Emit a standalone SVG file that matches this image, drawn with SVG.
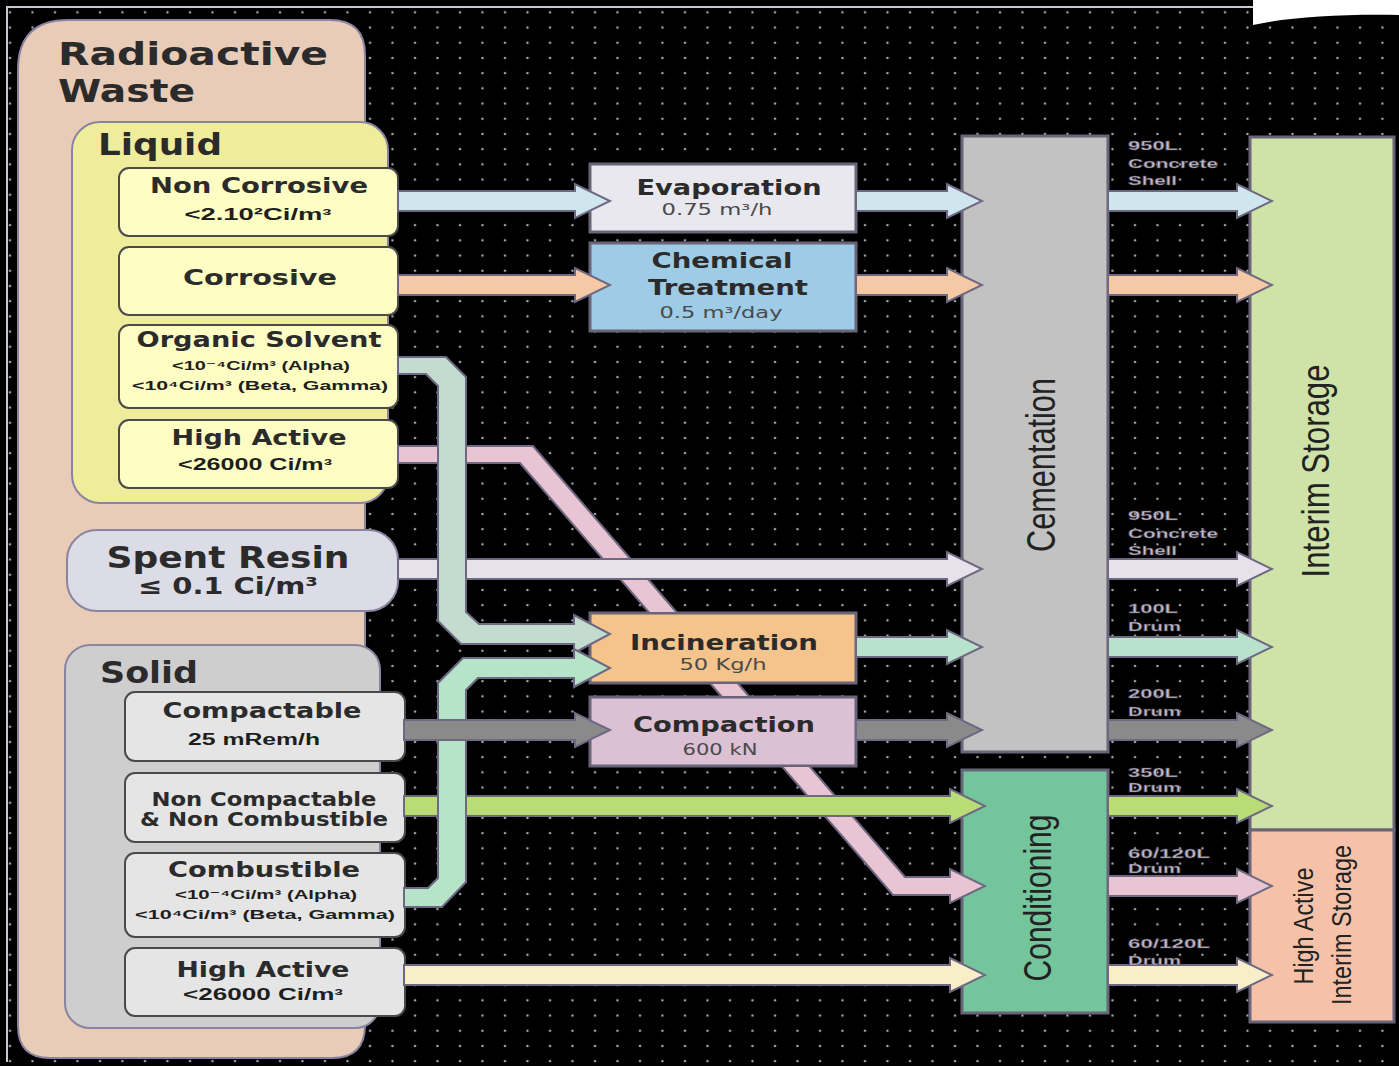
<svg xmlns="http://www.w3.org/2000/svg" width="1399" height="1066" viewBox="0 0 1399 1066">
<defs>
<pattern id="dots" patternUnits="userSpaceOnUse" width="22.5" height="15.2"><circle cx="10" cy="12.3" r="1.2" fill="#b4b4c6"/></pattern>
<clipPath id="pinkClip"><path clip-rule="evenodd" d="M0,0H1399V1066H0Z M589,612H857V684H589Z M589,696H857V767H589Z"/></clipPath>
<style>
.arrow{stroke:#6e6882;stroke-width:2;stroke-linejoin:miter}
.src{stroke:#4a4a4a;stroke-width:2}
.panel{stroke:#8a84a0;stroke-width:2}
.proc{stroke:#6a6478;stroke-width:3}
.t{font-family:"DejaVu Sans","Liberation Sans",sans-serif;font-weight:bold;fill:#2b2b2b}
.s{font-family:"Liberation Sans","DejaVu Sans",sans-serif;font-weight:bold;fill:#1e1e1e}
.p{font-family:"DejaVu Sans","Liberation Sans",sans-serif;fill:#4a4a4a;font-size:15px}
.v{font-family:"Liberation Sans","DejaVu Sans",sans-serif;fill:#222}
.lbl{font-family:"Liberation Sans","DejaVu Sans",sans-serif;font-weight:bold;font-size:13px;fill:#c4bccb;stroke:#4a4452;stroke-width:0.5}
</style>
</defs>
<g id="background">
<rect width="1399" height="1066" fill="#000"/>
<rect width="1399" height="1066" fill="url(#dots)"/>
<path d="M1253,0 L1253,25 C1290,17 1340,14 1399,15 L1399,0 Z" fill="#fff"/>
<path d="M7,1062 L7,7 L1253,7" fill="none" stroke="#c8c8d2" stroke-width="2"/>
</g>
<g id="radioactive-waste">
<path class="panel" d="M18,70 Q18,20 68,20 L330,20 Q365,20 365,55 L365,1025 Q365,1058 332,1058 L50,1058 Q18,1058 18,1026 Z" fill="#e8ccb8"/>
<text class="t" x="58" y="65" font-size="32" textLength="270" lengthAdjust="spacingAndGlyphs">Radioactive</text>
<text class="t" x="58" y="102" font-size="32" textLength="137" lengthAdjust="spacingAndGlyphs">Waste</text>
</g>
<g id="liquid">
<rect class="panel" x="72" y="122" width="316" height="381" rx="28" fill="#efed9b"/>
<text class="t" x="98" y="155" font-size="30" textLength="124" lengthAdjust="spacingAndGlyphs">Liquid</text>
</g>
<g id="non-corrosive">
<rect class="src" x="119" y="168" width="279" height="68" rx="10" fill="#fefec4"/>
<text class="t" x="259" y="193" font-size="21" text-anchor="middle" textLength="218" lengthAdjust="spacingAndGlyphs">Non Corrosive</text>
<text class="s" x="258" y="220" font-size="16" text-anchor="middle" textLength="147" lengthAdjust="spacingAndGlyphs">&lt;2.10²Ci/m³</text>
</g>
<g id="corrosive">
<rect class="src" x="119" y="247" width="279" height="68" rx="10" fill="#fefec4"/>
<text class="t" x="260" y="285" font-size="21" text-anchor="middle" textLength="154" lengthAdjust="spacingAndGlyphs">Corrosive</text>
</g>
<g id="organic-solvent">
<rect class="src" x="119" y="325" width="279" height="83" rx="10" fill="#fefec4"/>
<text class="t" x="259" y="347" font-size="21" text-anchor="middle" textLength="245" lengthAdjust="spacingAndGlyphs">Organic Solvent</text>
<text class="s" x="261" y="370" font-size="13" text-anchor="middle" textLength="178" lengthAdjust="spacingAndGlyphs">&lt;10⁻⁴Ci/m³ (Alpha)</text>
<text class="s" x="260" y="390" font-size="13" text-anchor="middle" textLength="256" lengthAdjust="spacingAndGlyphs">&lt;10⁴Ci/m³ (Beta, Gamma)</text>
</g>
<g id="liquid-high-active">
<rect class="src" x="119" y="420" width="279" height="68" rx="10" fill="#fefec4"/>
<text class="t" x="259" y="445" font-size="21" text-anchor="middle" textLength="175" lengthAdjust="spacingAndGlyphs">High Active</text>
<text class="s" x="255" y="470" font-size="16" text-anchor="middle" textLength="154" lengthAdjust="spacingAndGlyphs">&lt;26000 Ci/m³</text>
</g>
<g id="spent-resin">
<rect class="panel" x="67" y="530" width="331" height="81" rx="30" fill="#dcdce6"/>
<text class="t" x="228" y="568" font-size="30" text-anchor="middle" textLength="243" lengthAdjust="spacingAndGlyphs">Spent Resin</text>
<text class="t" x="228" y="594" font-size="23" text-anchor="middle" textLength="180" lengthAdjust="spacingAndGlyphs">≤ 0.1 Ci/m³</text>
</g>
<g id="solid">
<rect class="panel" x="65" y="645" width="315" height="383" rx="25" fill="#cecece"/>
<text class="t" x="100" y="683" font-size="30" textLength="98" lengthAdjust="spacingAndGlyphs">Solid</text>
</g>
<g id="compactable">
<rect class="src" x="125" y="692" width="280" height="69" rx="10" fill="#e5e5e5"/>
<text class="t" x="262" y="718" font-size="21" text-anchor="middle" textLength="199" lengthAdjust="spacingAndGlyphs">Compactable</text>
<text class="s" x="254" y="745" font-size="16" text-anchor="middle" textLength="132" lengthAdjust="spacingAndGlyphs">25 mRem/h</text>
</g>
<g id="non-compactable">
<rect class="src" x="125" y="773" width="280" height="69" rx="10" fill="#e5e5e5"/>
<text class="t" x="264" y="806" font-size="19" text-anchor="middle" textLength="225" lengthAdjust="spacingAndGlyphs">Non Compactable</text>
<text class="t" x="264" y="826" font-size="19" text-anchor="middle" textLength="248" lengthAdjust="spacingAndGlyphs">&amp; Non Combustible</text>
</g>
<g id="combustible">
<rect class="src" x="125" y="853" width="280" height="84" rx="10" fill="#e5e5e5"/>
<text class="t" x="264" y="877" font-size="21" text-anchor="middle" textLength="192" lengthAdjust="spacingAndGlyphs">Combustible</text>
<text class="s" x="266" y="899" font-size="13" text-anchor="middle" textLength="182" lengthAdjust="spacingAndGlyphs">&lt;10⁻⁴Ci/m³ (Alpha)</text>
<text class="s" x="265" y="919" font-size="13" text-anchor="middle" textLength="260" lengthAdjust="spacingAndGlyphs">&lt;10⁴Ci/m³ (Beta, Gamma)</text>
</g>
<g id="solid-high-active">
<rect class="src" x="125" y="948" width="280" height="68" rx="10" fill="#e5e5e5"/>
<text class="t" x="263" y="977" font-size="21" text-anchor="middle" textLength="173" lengthAdjust="spacingAndGlyphs">High Active</text>
<text class="s" x="263" y="1000" font-size="16" text-anchor="middle" textLength="160" lengthAdjust="spacingAndGlyphs">&lt;26000 Ci/m³</text>
</g>
<g id="evaporation">
<rect class="proc" x="590" y="164" width="266" height="68" fill="#e8e8ee"/>
<text class="t" x="729" y="195" font-size="22" text-anchor="middle" textLength="185" lengthAdjust="spacingAndGlyphs">Evaporation</text>
<text class="p" x="717" y="215" text-anchor="middle" textLength="111" lengthAdjust="spacingAndGlyphs">0.75 m³/h</text>
</g>
<g id="chemical-treatment">
<rect class="proc" x="590" y="243" width="266" height="88" fill="#9ecbe6"/>
<text class="t" x="722" y="268" font-size="22" text-anchor="middle" textLength="141" lengthAdjust="spacingAndGlyphs">Chemical</text>
<text class="t" x="728" y="295" font-size="22" text-anchor="middle" textLength="160" lengthAdjust="spacingAndGlyphs">Treatment</text>
<text class="p" x="721" y="318" text-anchor="middle" textLength="123" lengthAdjust="spacingAndGlyphs">0.5 m³/day</text>
</g>
<g id="incineration">
<rect class="proc" x="590" y="613" width="266" height="70" fill="#f5c48c"/>
<text class="t" x="724" y="650" font-size="22" text-anchor="middle" textLength="188" lengthAdjust="spacingAndGlyphs">Incineration</text>
<text class="p" x="723" y="670" text-anchor="middle" textLength="87" lengthAdjust="spacingAndGlyphs">50 Kg/h</text>
</g>
<g id="compaction">
<rect class="proc" x="590" y="697" width="266" height="69" fill="#dcc0d3"/>
<text class="t" x="724" y="732" font-size="22" text-anchor="middle" textLength="182" lengthAdjust="spacingAndGlyphs">Compaction</text>
<text class="p" x="720" y="755" text-anchor="middle" textLength="75" lengthAdjust="spacingAndGlyphs">600 kN</text>
</g>
<g id="cementation">
<rect class="proc" x="962" y="136" width="146" height="616" fill="#c2c2c2"/>
<text class="v" transform="translate(1055,465) rotate(-90)" font-size="40" text-anchor="middle" textLength="174" lengthAdjust="spacingAndGlyphs">Cementation</text>
</g>
<g id="conditioning">
<rect class="proc" x="962" y="770" width="146" height="243" fill="#74c59c"/>
<text class="v" transform="translate(1051,898) rotate(-90)" font-size="38" text-anchor="middle" textLength="167" lengthAdjust="spacingAndGlyphs">Conditioning</text>
</g>
<g id="interim-storage">
<rect class="proc" x="1250" y="137" width="144" height="693" fill="#cfe3a8"/>
<text class="v" transform="translate(1329,471) rotate(-90)" font-size="38" text-anchor="middle" textLength="213" lengthAdjust="spacingAndGlyphs">Interim Storage</text>
</g>
<g id="ha-interim-storage">
<rect class="proc" x="1250" y="830" width="144" height="192" fill="#f5c2a9"/>
<text class="v" transform="translate(1313,926) rotate(-90)" font-size="27" text-anchor="middle" textLength="117" lengthAdjust="spacingAndGlyphs">High Active</text>
<text class="v" transform="translate(1351,925) rotate(-90)" font-size="27" text-anchor="middle" textLength="160" lengthAdjust="spacingAndGlyphs">Interim Storage</text>
</g>
<g id="connectors">
<polygon class="arrow" clip-path="url(#pinkClip)" fill="#e9c4d2" points="398,446 533,446 905,877 950,877 950,869 985,886 950,903 950,895 893,895 520,463 398,463"/>
<polygon class="arrow" fill="#e6e1ea" points="398,559 947,559 947,552 982,569 947,586 947,579 398,579"/>
<polygon class="arrow" fill="#b9dc76" points="404,796 950,796 950,789 985,806 950,823 950,816 404,816"/>
<polygon class="arrow" fill="#c4dcd0" points="398,357 446,357 466,377 466,612 479,624 574,624 574,615 610,634 574,653 574,644 461,644 438,621 438,386 426,374 398,374"/>
<polygon class="arrow" fill="#b6e4c9" points="404,888 428,888 438,878 438,683 463,658 574,658 574,649 610,668 574,687 574,678 478,678 466,690 466,882 442,907 404,907"/>
<polygon class="arrow" fill="#8a8a8a" points="404,720 575,720 575,713 610,730 575,747 575,740 404,740"/>
<polygon class="arrow" fill="#8a8a8a" points="856,720 947,720 947,713 982,730 947,747 947,740 856,740"/>
<polygon class="arrow" fill="#8a8a8a" points="1108,720 1237,720 1237,713 1272,730 1237,747 1237,740 1108,740"/>
<polygon class="arrow" fill="#cfe6ee" points="398,191 575,191 575,184 610,201 575,218 575,211 398,211"/>
<polygon class="arrow" fill="#cfe6ee" points="856,191 947,191 947,184 982,201 947,218 947,211 856,211"/>
<polygon class="arrow" fill="#cfe6ee" points="1108,191 1237,191 1237,184 1272,201 1237,218 1237,211 1108,211"/>
<polygon class="arrow" fill="#f6c9a6" points="398,275 575,275 575,268 610,285 575,302 575,295 398,295"/>
<polygon class="arrow" fill="#f6c9a6" points="856,275 947,275 947,268 982,285 947,302 947,295 856,295"/>
<polygon class="arrow" fill="#f6c9a6" points="1108,275 1237,275 1237,268 1272,285 1237,302 1237,295 1108,295"/>
<polygon class="arrow" fill="#e6e1ea" points="1108,559 1237,559 1237,552 1272,569 1237,586 1237,579 1108,579"/>
<polygon class="arrow" fill="#b8e2cc" points="856,637 947,637 947,630 982,647 947,664 947,657 856,657"/>
<polygon class="arrow" fill="#b8e2cc" points="1108,637 1237,637 1237,630 1272,647 1237,664 1237,657 1108,657"/>
<polygon class="arrow" fill="#b9dc76" points="1108,796 1237,796 1237,789 1272,806 1237,823 1237,816 1108,816"/>
<polygon class="arrow" fill="#e9c4d2" points="1108,876 1237,876 1237,869 1272,886 1237,903 1237,896 1108,896"/>
<polygon class="arrow" fill="#f8efc9" points="404,965 950,965 950,958 985,975 950,992 950,985 404,985"/>
<polygon class="arrow" fill="#f8efc9" points="1108,965 1237,965 1237,958 1272,975 1237,992 1237,985 1108,985"/>
<g id="connector-labels">
<text class="lbl" x="1128" y="150" textLength="50" lengthAdjust="spacingAndGlyphs">950L</text>
<text class="lbl" x="1128" y="168" textLength="90" lengthAdjust="spacingAndGlyphs">Concrete</text>
<text class="lbl" x="1128" y="185" textLength="49" lengthAdjust="spacingAndGlyphs">Shell</text>
<text class="lbl" x="1128" y="520" textLength="50" lengthAdjust="spacingAndGlyphs">950L</text>
<text class="lbl" x="1128" y="538" textLength="90" lengthAdjust="spacingAndGlyphs">Concrete</text>
<text class="lbl" x="1128" y="555" textLength="49" lengthAdjust="spacingAndGlyphs">Shell</text>
<text class="lbl" x="1128" y="613" textLength="50" lengthAdjust="spacingAndGlyphs">100L</text>
<text class="lbl" x="1128" y="631" textLength="53" lengthAdjust="spacingAndGlyphs">Drum</text>
<text class="lbl" x="1128" y="698" textLength="50" lengthAdjust="spacingAndGlyphs">200L</text>
<text class="lbl" x="1128" y="716" textLength="53" lengthAdjust="spacingAndGlyphs">Drum</text>
<text class="lbl" x="1128" y="777" textLength="50" lengthAdjust="spacingAndGlyphs">350L</text>
<text class="lbl" x="1128" y="792" textLength="53" lengthAdjust="spacingAndGlyphs">Drum</text>
<text class="lbl" x="1128" y="858" textLength="82" lengthAdjust="spacingAndGlyphs">60/120L</text>
<text class="lbl" x="1128" y="873" textLength="53" lengthAdjust="spacingAndGlyphs">Drum</text>
<text class="lbl" x="1128" y="948" textLength="82" lengthAdjust="spacingAndGlyphs">60/120L</text>
<text class="lbl" x="1128" y="965" textLength="53" lengthAdjust="spacingAndGlyphs">Drum</text>
</g>
</g>
</svg>
